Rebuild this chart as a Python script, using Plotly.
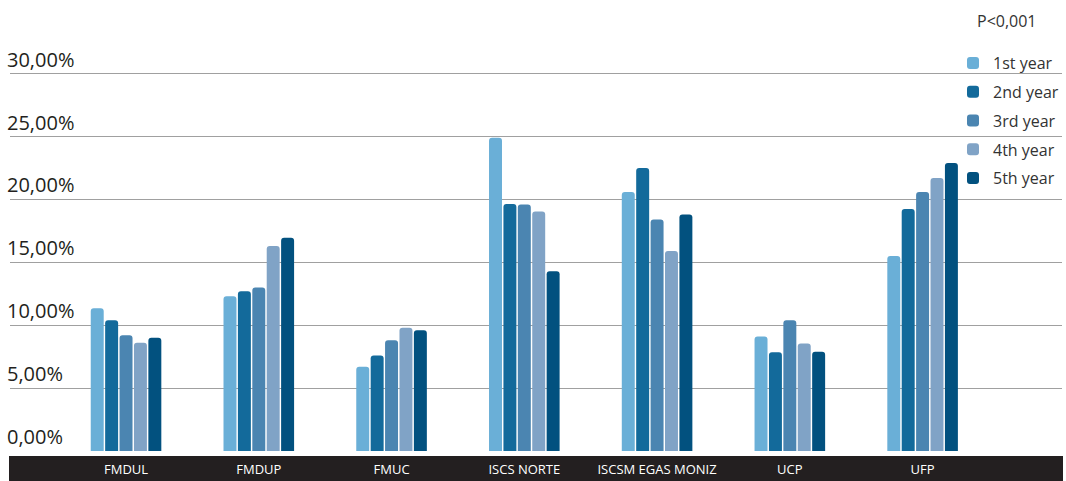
import plotly.graph_objects as go

categories = ["FMDUL", "FMDUP", "FMUC", "ISCS NORTE", "ISCSM EGAS MONIZ", "UCP", "UFP"]
series_names = ["1st year", "2nd year", "3rd year", "4th year", "5th year"]
year1 = [11.35, 12.3, 6.7, 24.9, 20.6, 9.1, 15.5]
year2 = [10.4, 12.7, 7.6, 19.65, 22.5, 7.85, 19.25]
year3 = [9.2, 13.0, 8.8, 19.6, 18.4, 10.4, 20.6]
year4 = [8.6, 16.3, 9.8, 19.05, 15.9, 8.55, 21.7]
year5 = [9.0, 16.95, 9.6, 14.3, 18.8, 7.9, 22.9]
colors = ["#6aafd7", "#136a9b", "#4b85b1", "#80a3c6", "#02517f"]
y_ticks = [0, 5, 10, 15, 20, 25, 30]
y_tick_labels = ["0,00%", "5,00%", "10,00%", "15,00%", "20,00%", "25,00%", "30,00%"]
p_label = "P<0,001"

FONT = "Open Sans"

# plot area: x 10..1062, y 36..451 (px)
PX_TOP, PX_BOT, PX_L, PX_R = 36, 451, 10, 1062
H = PX_BOT - PX_TOP
W = PX_R - PX_L


def py(p):
    return (PX_BOT - p) / H


def px(p):
    return (p - PX_L) / W


fig = go.Figure()
for i, (name, vals) in enumerate(zip(series_names, [year1, year2, year3, year4, year5])):
    fig.add_trace(go.Bar(
        x=categories, y=vals, name=name,
        marker=dict(color=colors[i], line=dict(width=0)),
        legendgroup=name,
    ))

fig.update_layout(
    width=1066, height=481,
    margin=dict(l=PX_L, r=1066 - PX_R, t=PX_TOP, b=481 - PX_BOT, autoexpand=False),
    paper_bgcolor="white", plot_bgcolor="white",
    barmode="group", bargap=0.4575, bargroupgap=0.1, barcornerradius=3,
    font=dict(family=FONT, color="#231f20"),
    showlegend=True,
    legend=dict(
        x=px(953), xanchor="left", y=py(46), yanchor="top",
        font=dict(family=FONT, size=16, color="#333333"),
        bgcolor="rgba(0,0,0,0)", tracegroupgap=5,
    ),
    xaxis=dict(
        range=[-0.874, 7.05], showgrid=False, zeroline=False, showline=False,
        tickfont=dict(family=FONT, size=13, color="white"),
        ticks="", ticklabelstandoff=9, automargin=False,
    ),
    yaxis=dict(
        range=[0, 33], tickvals=y_ticks, ticktext=y_tick_labels,
        showgrid=True, gridcolor="#a0a0a0", gridwidth=1.3,
        zeroline=True, zerolinecolor="white",
        ticklabelposition="inside top", ticklabelstandoff=-6,
        tickfont=dict(family=FONT, size=20, color="#231f20"),
        ticks="", showline=False, automargin=False,
    ),
    shapes=[dict(
        type="rect", xref="paper", yref="paper",
        x0=px(9), x1=px(1063), y0=py(456), y1=py(482),
        fillcolor="#231f20", line=dict(width=0), layer="below",
    )],
    annotations=[dict(
        text=p_label, xref="paper", yref="paper",
        x=px(1007), y=py(21), xanchor="center", yanchor="middle",
        showarrow=False, font=dict(family=FONT, size=16, color="#333333"),
    )],
)

fig.write_html(
    "out.html",
    config={"displayModeBar": False},
    post_script="document.body.style.margin='0';document.body.style.padding='0';",
)
